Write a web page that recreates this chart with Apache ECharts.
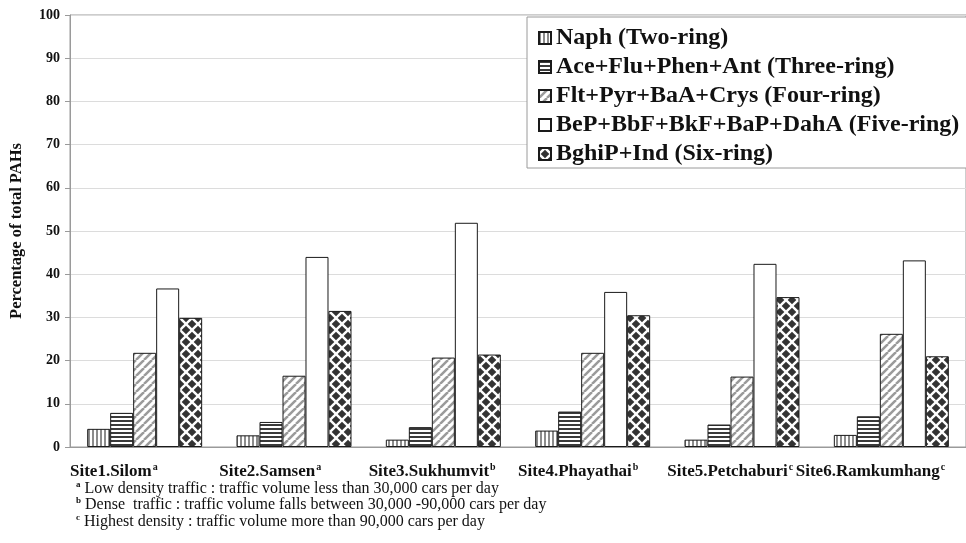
<!DOCTYPE html>
<html>
<head>
<meta charset="utf-8">
<script src="https://cdn.jsdelivr.net/npm/echarts@6/dist/echarts.min.js"></script>
<style>
  html, body { margin: 0; padding: 0; background: #fff; }
  #main { width: 966px; height: 543px; }
</style>
</head>
<body>
<div id="main"></div>
<script>
// data
var sites = ['Site1.Silom', 'Site2.Samsen', 'Site3.Sukhumvit', 'Site4.Phayathai', 'Site5.Petchaburi', 'Site6.Ramkumhang'];
var siteNotes = ['a', 'a', 'b', 'b', 'c', 'c'];
var seriesNames = ['Naph (Two-ring)', 'Ace+Flu+Phen+Ant (Three-ring)', 'Flt+Pyr+BaA+Crys (Four-ring)', 'BeP+BbF+BkF+BaP+DahA (Five-ring)', 'BghiP+Ind (Six-ring)'];
var twoRing = [4.2, 2.7, 1.7, 3.8, 1.7, 2.8];
var threeRing = [7.9, 5.8, 4.6, 8.2, 5.2, 7.1];
var fourRing = [21.8, 16.5, 20.7, 21.8, 16.3, 26.2];
var fiveRing = [36.7, 44.0, 51.9, 35.9, 42.4, 43.2];
var sixRing = [29.9, 31.5, 21.4, 30.5, 34.7, 21.0];
var noteKeys = ['a', 'b', 'c'];
var noteTexts = [
    'Low density traffic : traffic volume less than 30,000 cars per day',
    'Dense  traffic : traffic volume falls between 30,000 -90,000 cars per day',
    'Highest density : traffic volume more than 90,000 cars per day'
];

var serif = "'Liberation Serif', 'Times New Roman', serif";

// fill patterns
function tile(w, h, draw) {
    var c = document.createElement('canvas');
    c.width = w; c.height = h;
    var g = c.getContext('2d');
    g.fillStyle = '#fff';
    g.fillRect(0, 0, w, h);
    draw(g, w, h);
    return { image: c, repeat: 'repeat' };
}
var patVert = tile(4, 4, function (g) {
    g.fillStyle = '#8c8c8c';
    g.fillRect(0, 0, 2, 4);
});
var patHorz = tile(4, 4, function (g) {
    g.fillStyle = '#3a3a3a';
    g.fillRect(0, 0, 4, 2);
});
var patDiag = tile(8, 8, function (g) {
    g.strokeStyle = '#9a9a9a';
    g.lineWidth = 2.5;
    [-8, 0, 8].forEach(function (k) {
        g.beginPath();
        g.moveTo(k, 8);
        g.lineTo(k + 8, 0);
        g.stroke();
    });
});
var patDiamond = tile(12, 12, function (g) {
    g.fillStyle = '#333';
    var r = 4.3;
    [[6, 6], [0, 0], [12, 0], [0, 12], [12, 12]].forEach(function (p) {
        g.beginPath();
        g.moveTo(p[0], p[1] - r);
        g.lineTo(p[0] + r, p[1]);
        g.lineTo(p[0], p[1] + r);
        g.lineTo(p[0] - r, p[1]);
        g.closePath();
        g.fill();
    });
});

var fills = [patVert, patHorz, patDiag, '#fff', patDiamond];
var values = [twoRing, threeRing, fourRing, fiveRing, sixRing];

var series = seriesNames.map(function (name, i) {
    return {
        name: name,
        type: 'bar',
        xAxisIndex: 0,
        barGap: '0%',
        barCategoryGap: '23%',
        itemStyle: { color: fills[i], borderColor: '#1a1a1a', borderWidth: 1 },
        data: values[i]
    };
});

// label positions along the tick axis (last one pulled in to fit the frame)
var labelPos = sites.map(function (s, i) { return i === sites.length - 1 ? i - 0.14 : i; });

var chart = echarts.init(document.getElementById('main'));
chart.setOption({
    animation: false,
    textStyle: { fontFamily: serif },
    grid: { left: 68, top: 15, width: 904, height: 432, show: true, borderColor: '#9a9a9a', borderWidth: 1 },
    legend: {
        orient: 'vertical',
        left: 527,
        top: 17,
        padding: [9, 10, 2, 11],
        itemGap: 5,
        itemWidth: 12,
        itemHeight: 12,
        icon: 'rect',
        backgroundColor: '#fff',
        borderColor: '#9a9a9a',
        borderWidth: 1,
        textStyle: { fontFamily: serif, fontWeight: 'bold', fontSize: 24, color: '#111' },
        data: seriesNames
    },
    xAxis: [{
        type: 'category',
        data: sites,
        axisLine: { lineStyle: { color: '#9a9a9a' } },
        axisTick: { length: 5, lineStyle: { color: '#9a9a9a' } },
        axisLabel: { show: false }
    }, {
        type: 'value',
        min: 0,
        max: sites.length,
        position: 'bottom',
        axisLine: { show: false },
        axisTick: { show: false },
        splitLine: { show: false },
        axisLabel: {
            customValues: labelPos,
            align: 'left',
            margin: 15,
            formatter: function (v) {
                var i = labelPos.indexOf(v);
                if (i < 0) return '';
                return '{n|' + sites[i] + '}{s|' + siteNotes[i] + '}';
            },
            rich: {
                n: { fontFamily: serif, fontWeight: 'bold', fontSize: 17, color: '#111', lineHeight: 20 },
                s: { fontFamily: serif, fontWeight: 'bold', fontSize: 10, color: '#111', verticalAlign: 'top', lineHeight: 12, padding: [0, 0, 0, 1] }
            }
        }
    }],
    yAxis: {
        type: 'value',
        min: 0,
        max: 100,
        interval: 10,
        name: 'Percentage of total PAHs',
        nameLocation: 'middle',
        nameGap: 45,
        nameTextStyle: { fontFamily: serif, fontWeight: 'bold', fontSize: 16.5, color: '#111' },
        axisLine: { show: true, lineStyle: { color: '#9a9a9a' } },
        axisTick: { show: true, length: 5, lineStyle: { color: '#9a9a9a' } },
        axisLabel: { fontFamily: serif, fontWeight: 'bold', fontSize: 14, color: '#111', margin: 10 },
        splitLine: { lineStyle: { color: '#dcdcdc' } }
    },
    series: series,
    graphic: noteKeys.map(function (k, i) {
        return {
            type: 'text',
            left: 76,
            top: 480 + i * 16.5,
            style: {
                text: '{s|' + k + '}{t|' + noteTexts[i] + '}',
                rich: {
                    s: { fontFamily: serif, fontWeight: 'bold', fontSize: 9, fill: '#111', verticalAlign: 'top', lineHeight: 10, padding: [0, 4, 0, 0] },
                    t: { fontFamily: serif, fontSize: 16, fill: '#111', lineHeight: 17 }
                }
            }
        };
    })
});
</script>
</body>
</html>
